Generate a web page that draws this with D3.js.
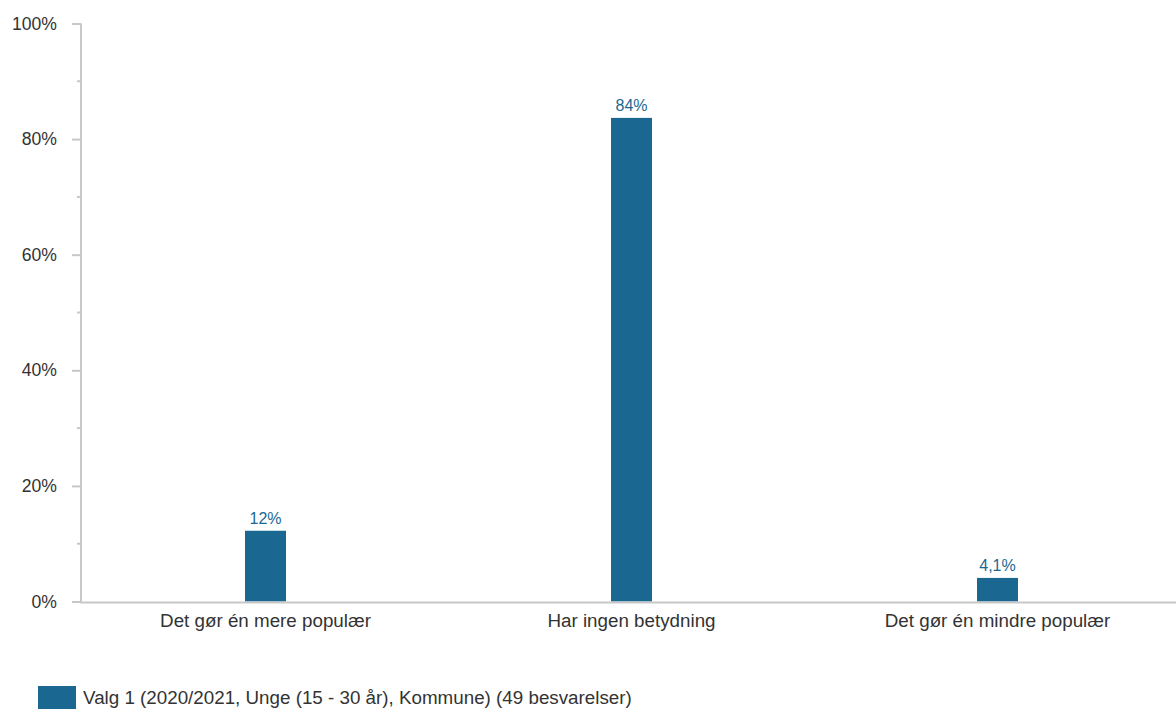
<!DOCTYPE html>
<html><head><meta charset="utf-8">
<script src="https://cdn.jsdelivr.net/npm/d3@7"></script>
<style>body{margin:0;background:#fff}svg{display:block;font-family:"Liberation Sans",Arial,sans-serif}</style>
</head><body>
<svg id="c" width="1176" height="709"></svg>
<script>
const categories = ["Det gør én mere populær", "Har ingen betydning", "Det gør én mindre populær"];
const values = [12.24, 83.67, 4.08];
const valueLabels = ["12%", "84%", "4,1%"];
const yTicks = [0, 20, 40, 60, 80, 100];
const seriesName = "Valg 1 (2020/2021, Unge (15 - 30 år), Kommune) (49 besvarelser)";

const svg = d3.select("#c");
const font = "Liberation Sans, Arial, sans-serif";
const barColor = "#1a6892", axisColor = "#c8c8c8", textColor = "#333";
const y = d3.scaleLinear().domain([0, 100]).range([601.5, 23.5]);
const x = d3.scaleBand().domain(categories).range([82.5, 1180.5]);
const bw = 41;

// minor ticks
svg.append("g").selectAll("line").data(d3.range(10, 100, 20)).join("line")
  .attr("x1", 77).attr("x2", 81).attr("y1", d => y(d)).attr("y2", d => y(d))
  .attr("stroke", axisColor).attr("stroke-width", 2);

const yAxis = svg.append("g").attr("transform", "translate(81,0)")
  .call(d3.axisLeft(y).tickValues(yTicks).tickFormat(d => d + "%").tickSize(9).tickPadding(15));
yAxis.select(".domain").remove();
yAxis.selectAll(".tick line").attr("stroke", axisColor).attr("stroke-width", 2);
yAxis.selectAll(".tick text").attr("fill", textColor).attr("font-size", 17.6).attr("font-family", font);

svg.append("line").attr("x1", 81).attr("x2", 81).attr("y1", y(100)).attr("y2", y(0) + 1)
  .attr("stroke", axisColor).attr("stroke-width", 2);

svg.append("g").selectAll("rect").data(values).join("rect")
  .attr("x", (d, i) => x(categories[i]) + x.bandwidth() / 2 - bw / 2)
  .attr("width", bw)
  .attr("y", d => y(d)).attr("height", d => y(0) - y(d))
  .attr("fill", barColor);

svg.append("line").attr("x1", 80).attr("x2", 1176).attr("y1", y(0) + 1).attr("y2", y(0) + 1)
  .attr("stroke", axisColor).attr("stroke-width", 2);

svg.append("g").selectAll("text").data(values).join("text")
  .attr("x", (d, i) => x(categories[i]) + x.bandwidth() / 2)
  .attr("y", d => y(d) - 7)
  .attr("text-anchor", "middle").attr("font-size", 16).attr("font-family", font).attr("fill", barColor)
  .text((d, i) => valueLabels[i]);

svg.append("g").selectAll("text").data(categories).join("text")
  .attr("x", d => x(d) + x.bandwidth() / 2)
  .attr("y", 627)
  .attr("text-anchor", "middle").attr("font-size", 18.8).attr("font-family", font).attr("fill", textColor)
  .text(d => d);

svg.append("rect").attr("x", 38).attr("y", 686).attr("width", 38).attr("height", 30).attr("fill", barColor);
svg.append("text").attr("x", 83).attr("y", 704).attr("font-size", 18.8).attr("font-family", font).attr("fill", textColor).text(seriesName);
</script>
</body></html>
